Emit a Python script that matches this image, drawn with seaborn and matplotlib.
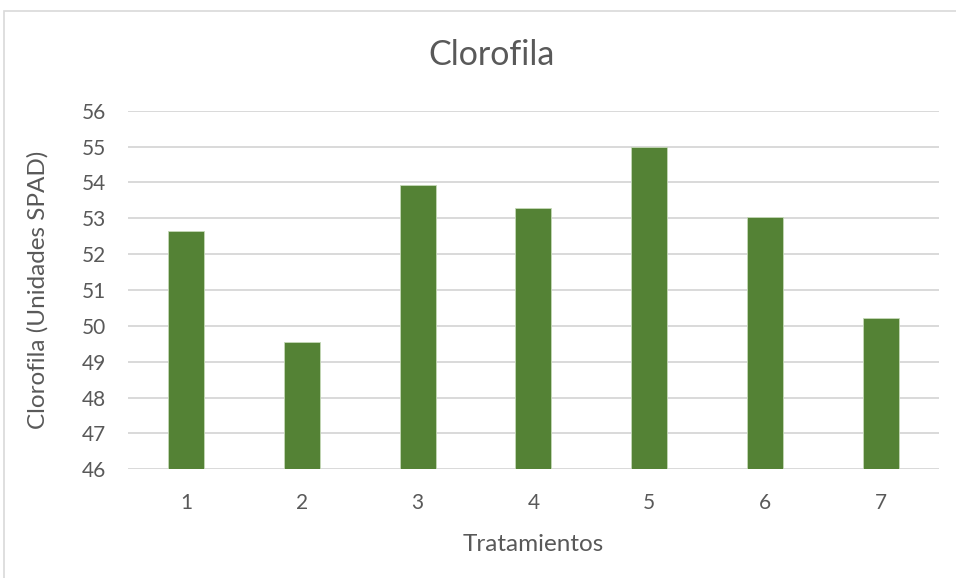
import pandas as pd
import numpy as np
import matplotlib.pyplot as plt
import seaborn as sns
from matplotlib.patches import Rectangle

tratamientos = ['1', '2', '3', '4', '5', '6', '7']
clorofila = [52.65, 49.54, 53.93, 53.28, 55.0, 53.04, 50.23]

df = pd.DataFrame({'Tratamientos': tratamientos, 'Clorofila': clorofila})

sns.set_theme(style='white')
plt.rcParams['font.family'] = ['Lato', 'DejaVu Sans']
gris = '#595959'

fig = plt.figure(figsize=(9.56, 5.78), dpi=100)
ax = fig.add_axes([0.134, 0.188, 0.848, 0.6205])

sns.barplot(data=df, x='Tratamientos', y='Clorofila', color='#548235',
            saturation=1, width=0.31, edgecolor='#c5d9b8', linewidth=0.6, ax=ax)

ax.set_ylim(46, 56)
ax.set_yticks(np.arange(46, 57, 1))
ax.yaxis.grid(True, color='#d9d9d9', linewidth=1.4)
ax.set_axisbelow(True)
for s in ax.spines.values():
    s.set_visible(False)
ax.tick_params(axis='both', length=0, labelsize=15, colors=gris)
ax.tick_params(axis='y', pad=16)
ax.tick_params(axis='x', pad=17)

ax.set_xlabel('Tratamientos', fontsize=17.5, color=gris, labelpad=15)
ax.set_ylabel('Clorofila (Unidades SPAD)', fontsize=17.5, color=gris, labelpad=24)
fig.text(0.5 + 0.014, 0.905, 'Clorofila', ha='center', va='center', fontsize=24.5, color=gris)

# borde del gráfico
fig.patches.append(Rectangle((0.004, -0.01), 1.0, 0.991, transform=fig.transFigure,
                             fill=False, edgecolor='#d9d9d9', linewidth=1.2))

plt.savefig('out.png', dpi=100)
plt.close()
